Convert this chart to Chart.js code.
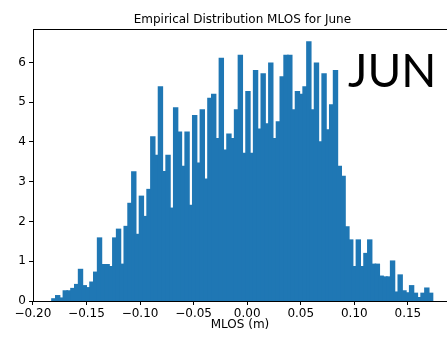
<!DOCTYPE html>
<html>
<head>
<meta charset="utf-8">
<script src="https://cdn.jsdelivr.net/npm/chart.js@4.4.0/dist/chart.umd.min.js"></script>
<style>
  html, body { margin: 0; padding: 0; background: #fff; }
</style>
</head>
<body>
<canvas id="histChart" width="447" height="341"></canvas>
<script>
// histogram of MLOS for June, 100 bins, density heights
const binStart = -0.1822;
const binEnd = 0.1730;
const density = [
  0.05, 0.13, 0.07, 0.25, 0.25, 0.31, 0.41, 0.79, 0.38, 0.33,
  0.47, 0.72, 1.58, 0.91, 0.91, 0.86, 1.58, 1.80, 0.92, 1.87,
  2.45, 3.24, 1.67, 2.63, 2.12, 2.80, 4.12, 3.66, 5.38, 3.25,
  3.66, 2.33, 4.85, 4.24, 3.38, 4.24, 2.40, 4.66, 3.46, 4.80,
  3.06, 5.09, 5.19, 4.08, 6.10, 3.79, 4.19, 4.08, 4.80, 6.17,
  3.71, 5.26, 3.71, 5.79, 4.32, 5.71, 4.45, 5.98, 4.08, 4.50,
  5.63, 6.17, 6.17, 4.80, 5.26, 5.19, 5.38, 6.51, 4.80, 5.98,
  4.00, 5.71, 4.30, 4.93, 5.79, 3.38, 3.13, 1.86, 1.53, 0.86,
  1.53, 0.86, 1.19, 1.53, 0.92, 0.92, 0.62, 0.60, 0.60, 1.00,
  0.22, 0.65, 0.25, 0.20, 0.38, 0.19, 0.08, 0.19, 0.32, 0.19
];
const xTickValues = [-0.20, -0.15, -0.10, -0.05, 0.00, 0.05, 0.10, 0.15];
const yTickValues = [0, 1, 2, 3, 4, 5, 6];

const chartTitle = 'Empirical Distribution MLOS for June';
const xLabel = 'MLOS (m)';
const monthTag = 'JUN';

const binWidth = (binEnd - binStart) / density.length;
const points = density.map((d, i) => ({ x: binStart + binWidth * (i + 0.5), y: d }));

const fmtTick = v => v.toFixed(2).replace('-', '\u2212');

// title, month tag and the top spine (matplotlib draws a full box)
const extras = {
  id: 'extras',
  afterDraw(chart) {
    const ctx = chart.ctx;
    const area = chart.chartArea;
    const xs = chart.scales.x;
    ctx.save();
    ctx.strokeStyle = '#000';
    ctx.lineWidth = 1;
    ctx.beginPath();
    ctx.moveTo(area.left, area.top + 0.5);
    ctx.lineTo(area.right, area.top + 0.5);
    ctx.stroke();

    ctx.fillStyle = '#000';
    ctx.font = '12px "DejaVu Sans"';
    ctx.textAlign = 'center';
    ctx.textBaseline = 'alphabetic';
    const axesMid = xs.getPixelForValue(-0.0045);
    ctx.fillText(chartTitle, axesMid, 23);

    ctx.font = '46px Lato';
    ctx.textAlign = 'left';
    ctx.fillText(monthTag, 348, 87);
    ctx.restore();
  }
};

new Chart(document.getElementById('histChart'), {
  type: 'bar',
  data: {
    datasets: [{
      data: points,
      backgroundColor: '#1f77b4',
      borderWidth: 0,
      barPercentage: 1,
      categoryPercentage: 1,
      inflateAmount: 0.8
    }]
  },
  options: {
    responsive: false,
    animation: false,
    layout: { padding: { top: 29, right: 0, bottom: 0, left: 0 } },
    plugins: {
      legend: { display: false },
      tooltip: { enabled: false }
    },
    scales: {
      x: {
        type: 'linear',
        offset: false,
        min: -0.1999,
        max: 0.1865,
        afterFit: s => { s.height = 40; },
        afterBuildTicks: s => { s.ticks = xTickValues.map(v => ({ value: v })); },
        grid: { offset: false, drawOnChartArea: false, drawTicks: true, tickLength: 4, color: '#000' },
        border: { display: true, color: '#000', width: 1 },
        ticks: {
          color: '#000',
          font: { family: 'DejaVu Sans', size: 12 },
          padding: 2,
          maxRotation: 0,
          autoSkip: false,
          callback: v => fmtTick(v)
        },
        title: {
          display: true,
          text: xLabel,
          color: '#000',
          font: { family: 'DejaVu Sans', size: 12 },
          padding: { top: 0, bottom: 9 }
        }
      },
      y: {
        min: 0,
        max: 6.84,
        afterFit: s => { s.width = 33; },
        afterBuildTicks: s => { s.ticks = yTickValues.map(v => ({ value: v })); },
        grid: { drawOnChartArea: false, drawTicks: true, tickLength: 4, color: '#000' },
        border: { display: true, color: '#000', width: 1 },
        ticks: {
          color: '#000',
          font: { family: 'DejaVu Sans', size: 12 },
          padding: 3,
          callback: v => String(v)
        }
      }
    }
  },
  plugins: [extras]
});
</script>
</body>
</html>
